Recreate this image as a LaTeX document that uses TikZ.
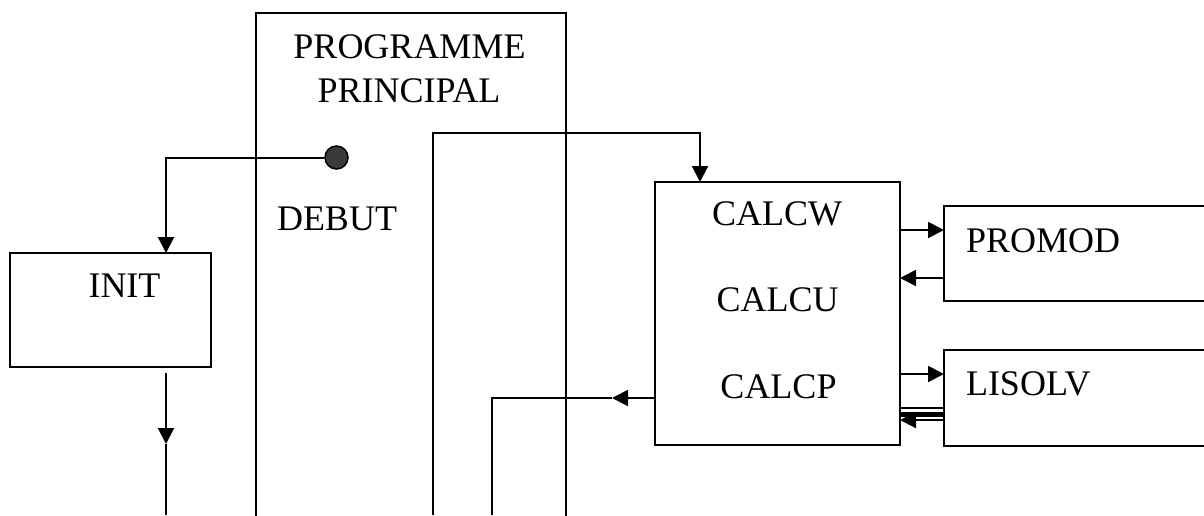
\documentclass[tikz,border=0pt]{standalone}
\usepackage{fontspec}
\setmainfont{Liberation Serif}
\usetikzlibrary{arrows.meta}
\definecolor{dotgray}{HTML}{3A3A3A}
\begin{document}
\begin{tikzpicture}[x=1pt,y=-1pt,
  line width=2pt,
  frame/.style={draw, rectangle, inner sep=0pt, outer sep=0pt},
  lbl/.style={inner sep=0pt, font=\fontsize{36}{40}\selectfont},
  arr/.style={-{Triangle[length=16pt,width=16pt]}}]
\useasboundingbox (0,0) rectangle (1204,515);
\clip (0,0) rectangle (1204,515);

% boxes
\node[frame, minimum width=310pt, minimum height=517pt] (main) at (411,271.5) {};
\node[frame, minimum width=201pt, minimum height=114pt] (init) at (110.5,310) {};
\node[frame, minimum width=245pt, minimum height=263pt] (calc) at (777.5,313.5) {};
\node[frame, minimum width=276pt, minimum height=95pt] (promod) at (1082,253.5) {};
\node[frame, minimum width=276pt, minimum height=96pt] (lisolv) at (1082,398) {};

% labels
\node[lbl, anchor=base] (prog1) at (409.5,58) {PROGRAMME};
\node[lbl, anchor=base] (prog2) at (409,102) {PRINCIPAL};
\node[lbl, anchor=base] (debutlbl) at (337,230) {DEBUT};
\node[lbl, anchor=base] (initlbl) at (124.5,297) {INIT};
\node[lbl, anchor=base] (cw) at (777,225) {CALCW};
\node[lbl, anchor=base] (cu) at (777.5,311) {CALCU};
\node[lbl, anchor=base] (cp) at (778.5,398) {CALCP};
\node[lbl, anchor=base west] (promodlbl) at (965,252) {PROMOD};
\node[lbl, anchor=base west] (lisolvlbl) at (965,395) {LISOLV};

% start point
\node[circle, draw, fill=dotgray, line width=1.5pt, minimum size=23pt, inner sep=0pt] (debut) at (336.5,157.5) {};

% guide coordinates for connector bends and levels
\coordinate (initcol) at (166,0);
\coordinate (initout) at (166,373);
\coordinate (initmid) at (166,444);
\coordinate (bottom) at (0,515);
\coordinate (loopcol) at (433,0);
\coordinate (looprow) at (0,133);
\coordinate (calcin) at (700,0);
\coordinate (retrow) at (0,398);
\coordinate (retmid) at (612,398);
\coordinate (retcol) at (492,0);
\coordinate (pmout) at (0,230);
\coordinate (pmin) at (0,278);
\coordinate (lsout) at (0,374);
\coordinate (lsa) at (0,408);
\coordinate (lsb) at (0,414);
\coordinate (lsc) at (0,420);

% DEBUT -> INIT
\draw[arr] (debut.west) -| (initcol |- init.north);
% INIT -> below
\draw[arr] (initout) -- (initmid);
\draw (initmid) -- (initmid |- bottom);

% loop into CALC
\draw[arr] (loopcol |- bottom) -- (loopcol |- looprow) -| (calcin |- calc.north);

% return from CALCP
\draw[arr] (calc.west |- retrow) -- (retmid);
\draw (retmid) -- (retcol |- retrow) -- (retcol |- bottom);

% PROMOD calls
\draw[arr] (calc.east |- pmout) -- (promod.west |- pmout);
\draw[arr] (promod.west |- pmin) -- (calc.east |- pmin);

% LISOLV calls
\draw[line width=1.4pt] (lisolv.west |- lsa) -- (calc.east |- lsa);
\draw[line width=5pt] (lisolv.west |- lsb) -- (calc.east |- lsb);
\draw[arr] (calc.east |- lsout) -- (lisolv.west |- lsout);
\draw[arr] (lisolv.west |- lsc) -- (calc.east |- lsc);
\end{tikzpicture}
\end{document}
